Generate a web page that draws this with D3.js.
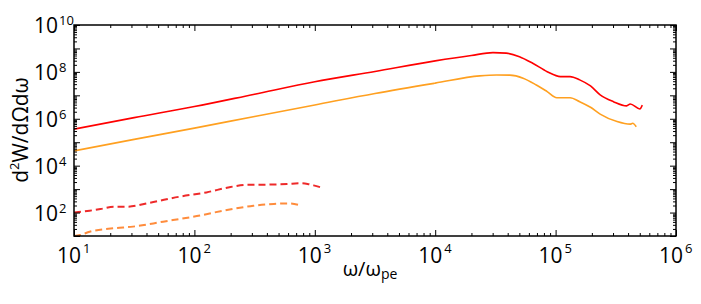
<!DOCTYPE html>
<html>
<head>
<meta charset="utf-8">
<script src="https://cdn.jsdelivr.net/npm/d3@7"></script>
<style>
  body { margin: 0; background: #fff; }
  svg { display: block; font-family: "Open Sans", sans-serif; }
</style>
</head>
<body>
<svg id="chart" width="701" height="304"></svg>
<script>
// values, as log10(omega/omega_pe) and log10(d2W/dOmega domega)
const solidRedLogW = [1.0, 1.5, 2.0, 2.5, 3.0, 3.5, 4.0, 4.3, 4.48, 4.59, 4.7, 4.81, 4.93, 5.04, 5.12, 5.2, 5.29, 5.37, 5.48, 5.59, 5.62, 5.7, 5.72];
const solidRedLogI = [5.56, 6.05, 6.52, 7.05, 7.58, 8.02, 8.47, 8.7, 8.82, 8.8, 8.65, 8.37, 8.01, 7.8, 7.8, 7.66, 7.4, 7.02, 6.73, 6.55, 6.63, 6.42, 6.58];

const solidOrangeLogW = [1.0, 1.5, 2.0, 2.5, 3.0, 3.5, 4.0, 4.37, 4.51, 4.62, 4.73, 4.84, 4.93, 5.01, 5.12, 5.2, 5.29, 5.37, 5.51, 5.62, 5.64, 5.67];
const solidOrangeLogI = [4.63, 5.12, 5.6, 6.1, 6.59, 7.08, 7.52, 7.83, 7.87, 7.86, 7.73, 7.44, 7.16, 6.9, 6.9, 6.73, 6.49, 6.2, 5.88, 5.77, 5.81, 5.66];

const dashedRedLogW = [1.0, 1.13, 1.22, 1.33, 1.44, 1.63, 1.88, 2.1, 2.3, 2.43, 2.6, 2.77, 2.88, 2.94, 2.99, 3.06];
const dashedRedLogI = [2.0, 2.08, 2.15, 2.25, 2.25, 2.42, 2.68, 2.86, 3.09, 3.18, 3.19, 3.22, 3.25, 3.22, 3.16, 3.06];

const dashedOrangeLogW = [1.0, 1.05, 1.13, 1.33, 1.49, 1.74, 2.02, 2.27, 2.49, 2.66, 2.79, 2.88];
const dashedOrangeLogI = [1.0, 1.04, 1.18, 1.33, 1.4, 1.61, 1.85, 2.11, 2.29, 2.37, 2.39, 2.31];

const xTickExp = [1, 2, 3, 4, 5, 6];
const yTickExp = [2, 4, 6, 8, 10];

const series = [
  {logW: solidRedLogW, logI: solidRedLogI, color: '#ff0000', dash: null, w: 1.6},
  {logW: solidOrangeLogW, logI: solidOrangeLogI, color: '#ffa020', dash: null, w: 1.6},
  {logW: dashedRedLogW, logI: dashedRedLogI, color: '#ee2a2a', dash: '7,4', w: 2},
  {logW: dashedOrangeLogW, logI: dashedOrangeLogI, color: '#ff8c3c', dash: '7,4', w: 2},
];

const margin = {top: 25, right: 25, bottom: 68, left: 74};
const svg = d3.select('#chart');
const width = 701 - margin.left - margin.right;
const height = 304 - margin.top - margin.bottom;

const x = d3.scaleLog().domain([1e1, 1e6]).range([0, width]);
const y = d3.scaleLog().domain([1e1, 1e10]).range([height, 0]);

const g = svg.append('g').attr('transform', `translate(${margin.left},${margin.top})`);

g.append('clipPath').attr('id', 'clip')
  .append('rect').attr('width', width).attr('height', height);

const line = d3.line()
  .curve(d3.curveMonotoneX)
  .x(d => x(d[0]))
  .y(d => y(d[1]));

series.forEach((s) => {
  const pts = s.logW.map((w, i) => [Math.pow(10, w), Math.pow(10, s.logI[i])]);
  g.append('path')
    .datum(pts)
    .attr('clip-path', 'url(#clip)')
    .attr('fill', 'none')
    .attr('stroke', s.color)
    .attr('stroke-width', s.w)
    .attr('stroke-dasharray', s.dash)
    .attr('d', line);
});

// tick positions: majors at each decade, minors at 2..9
function minorTicks(lo, hi) {
  const out = [];
  for (let e = lo; e < hi; e++) {
    for (let m = 2; m <= 9; m++) out.push(m * Math.pow(10, e));
  }
  return out;
}
const xMajor = d3.range(1, 7).map(e => Math.pow(10, e));
const yMajor = d3.range(1, 11).map(e => Math.pow(10, e));
const xMinor = minorTicks(1, 6);
const yMinor = minorTicks(1, 10);

function drawAxis(axis, transform) {
  const a = g.append('g').attr('transform', transform).call(axis);
  a.selectAll('text').remove();
  a.select('.domain').remove();
  a.selectAll('line').attr('stroke', '#000').attr('stroke-width', 1);
}

drawAxis(d3.axisBottom(x).tickValues(xMajor).tickSize(-6), `translate(0,${height})`);
drawAxis(d3.axisBottom(x).tickValues(xMinor).tickSize(-3), `translate(0,${height})`);
drawAxis(d3.axisTop(x).tickValues(xMajor).tickSize(-6), 'translate(0,0)');
drawAxis(d3.axisTop(x).tickValues(xMinor).tickSize(-3), 'translate(0,0)');
drawAxis(d3.axisLeft(y).tickValues(yMajor).tickSize(-6), 'translate(0,0)');
drawAxis(d3.axisLeft(y).tickValues(yMinor).tickSize(-3), 'translate(0,0)');
drawAxis(d3.axisRight(y).tickValues(yMajor).tickSize(-6), `translate(${width},0)`);
drawAxis(d3.axisRight(y).tickValues(yMinor).tickSize(-3), `translate(${width},0)`);

g.append('rect')
  .attr('width', width)
  .attr('height', height)
  .attr('fill', 'none')
  .attr('stroke', '#000')
  .attr('stroke-width', 1.5);

// tick labels as 10 with a superscript exponent
xTickExp.forEach((e) => {
  const px = x(Math.pow(10, e));
  g.append('text').attr('x', px + 7).attr('y', height + 27)
    .attr('text-anchor', 'end').attr('font-size', 21).text('10');
  g.append('text').attr('x', px + 9).attr('y', height + 17)
    .attr('font-size', 13).text(e);
});

yTickExp.forEach((e) => {
  const py = y(Math.pow(10, e));
  g.append('text').attr('x', -16).attr('y', py + 8)
    .attr('text-anchor', 'end').attr('font-size', 21).text('10');
  g.append('text').attr('x', -15).attr('y', py)
    .attr('font-size', 13).text(e);
});

const xTitle = svg.append('text')
  .attr('x', 370)
  .attr('y', 276)
  .attr('text-anchor', 'middle')
  .attr('font-size', 20);
xTitle.append('tspan').text('ω/ω');
xTitle.append('tspan').attr('font-size', 14).attr('dy', 3).text('pe');

const yTitle = svg.append('text')
  .attr('transform', 'translate(28,130) rotate(-90)')
  .attr('text-anchor', 'middle')
  .attr('font-size', 21);
yTitle.append('tspan').text('d');
yTitle.append('tspan').attr('font-size', 13).attr('dy', -9).text('2');
yTitle.append('tspan').attr('dy', 9).text('W/dΩdω');
</script>
</body>
</html>
